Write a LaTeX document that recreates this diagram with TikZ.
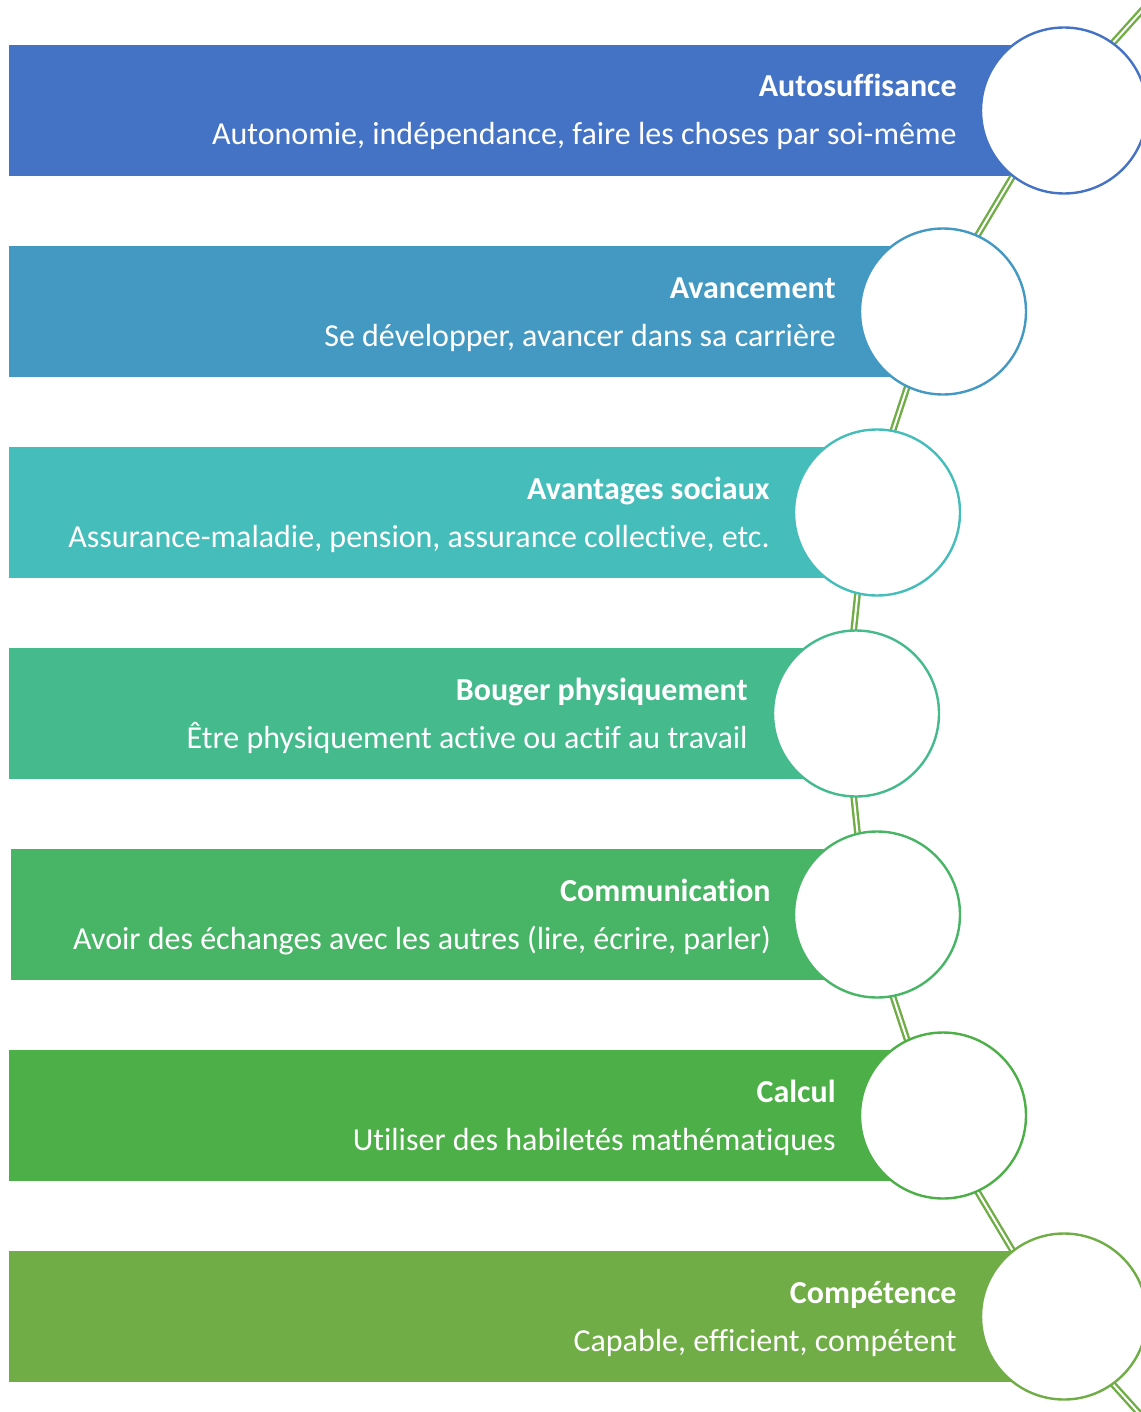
\documentclass[tikz,border=0pt]{standalone}
\usepackage{fontspec}
\setmainfont[Ligatures=NoCommon]{Carlito}
\definecolor{barA}{HTML}{4472C4}
\definecolor{barB}{HTML}{4499C3}
\definecolor{barC}{HTML}{45BDBA}
\definecolor{barD}{HTML}{45BA8C}
\definecolor{barE}{HTML}{48B566}
\definecolor{barF}{HTML}{4DAF47}
\definecolor{barG}{HTML}{70AD47}
\definecolor{linkgreen}{HTML}{70AD47}

\begin{document}
\begin{tikzpicture}[x=0.5pt,y=-0.5pt,
    ring/.style={circle, draw, fill=white, line width=1.2pt, minimum size=83pt, inner sep=0pt},
    link/.style={draw=linkgreen, line width=1.2pt, double=white, double distance=1pt},
    head/.style={anchor=base east, text=white, inner sep=0pt, font=\bfseries\fontsize{16}{19}\selectfont},
    sub/.style={anchor=base east, text=white, inner sep=0pt, font=\fontsize{16}{19}\selectfont}]
    \useasboundingbox (0,0) rectangle (1140,1412);

    \fill[barA] (9,45)   rectangle (1064,176);
    \fill[barB] (9,246)  rectangle (943,377);
    \fill[barC] (9,447)  rectangle (877,578);
    \fill[barD] (9,648)  rectangle (856,779);
    \fill[barE] (11,849) rectangle (877,980);
    \fill[barF] (9,1050) rectangle (943,1181);
    \fill[barG] (9,1251) rectangle (1064,1382);

    \coordinate (topend) at (1232,-89.5);
    \coordinate (hubA) at (1052,110.5);
    \coordinate (hubB) at (932,311.5);
    \coordinate (hubC) at (866,512.5);
    \coordinate (hubD) at (845,713.5);
    \coordinate (hubE) at (866,914.5);
    \coordinate (hubF) at (932,1115.5);
    \coordinate (hubG) at (1052,1316.5);
    \coordinate (botend) at (1232,1516.5);

    \draw[link] (topend) -- (hubA);
    \draw[link] (hubA) -- (hubB);
    \draw[link] (hubB) -- (hubC);
    \draw[link] (hubC) -- (hubD);
    \draw[link] (hubD) -- (hubE);
    \draw[link] (hubE) -- (hubF);
    \draw[link] (hubF) -- (hubG);
    \draw[link] (hubG) -- (botend);

    \node[ring, draw=barA] (ringA) at (1064,110.5)  {};
    \node[ring, draw=barB] (ringB) at (943,311.5)   {};
    \node[ring, draw=barC] (ringC) at (877,512.5)   {};
    \node[ring, draw=barD] (ringD) at (856,713.5)   {};
    \node[ring, draw=barE] (ringE) at (877,914.5)   {};
    \node[ring, draw=barF] (ringF) at (943,1115.5)  {};
    \node[ring, draw=barG] (ringG) at (1064,1316.5) {};

    \node[head] (headA) at (957,97)   {Autosuffisance};
    \node[sub]  (subA)  at (957,145)  {Autonomie, indépendance, faire les choses par soi-même};
    \node[head] (headB) at (836,298)  {Avancement};
    \node[sub]  (subB)  at (836,346)  {Se développer, avancer dans sa carrière};
    \node[head] (headC) at (770,499)  {Avantages sociaux};
    \node[sub]  (subC)  at (770,547)  {Assurance-maladie, pension, assurance collective, etc.};
    \node[head] (headD) at (748,700)  {Bouger physiquement};
    \node[sub]  (subD)  at (748,748)  {Être physiquement active ou actif au travail};
    \node[head] (headE) at (771,901)  {Communication};
    \node[sub]  (subE)  at (771,949)  {Avoir des échanges avec les autres (lire, écrire, parler)};
    \node[head] (headF) at (836,1102) {Calcul};
    \node[sub]  (subF)  at (836,1150) {Utiliser des habiletés mathématiques};
    \node[head] (headG) at (957,1303) {Compétence};
    \node[sub]  (subG)  at (957,1351) {Capable, efficient, compétent};
\end{tikzpicture}
\end{document}
